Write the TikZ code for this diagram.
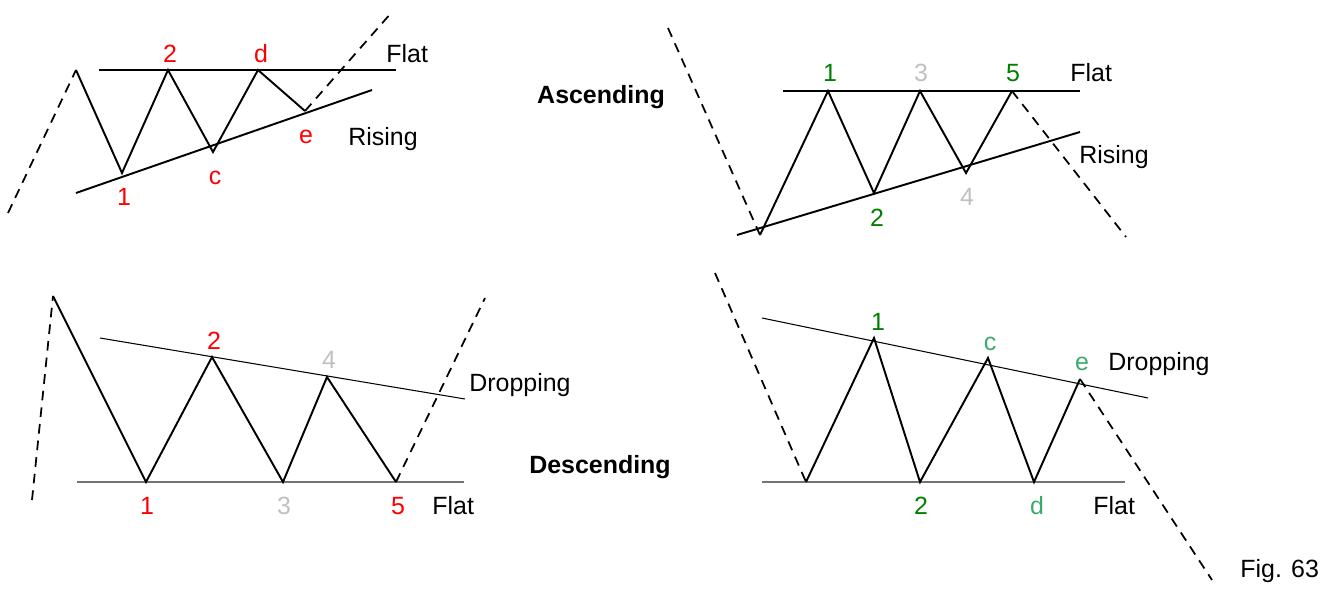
\documentclass[tikz,border=0pt]{standalone}
\usepackage{fontspec}
\setmainfont{Liberation Sans}
\definecolor{wgreen}{RGB}{0,128,0}
\definecolor{wgray}{RGB}{192,192,192}
\definecolor{wsea}{RGB}{60,170,110}
\begin{document}
\begin{tikzpicture}[x=0.02cm, y=-0.02cm, line join=miter,
		font=\fontsize{14.2}{17}\selectfont,
		wave/.style={line width=1.1pt},
		edge/.style={line width=1.1pt},
		thinedge/.style={line width=0.6pt},
		flatgray/.style={line width=1pt, draw=black!55},
		trend/.style={line width=1pt, dash pattern=on 5.5pt off 4pt},
		lbl/.style={anchor=base, inner sep=0pt},
		tag/.style={anchor=base west, inner sep=0pt}]
	\useasboundingbox (0,0) rectangle (1326,595);

	% (1) Tam giac tang, con song e
	\coordinate (a0) at (8,213);
	\coordinate (a1) at (76,70);
	\coordinate (a2) at (122,173);
	\coordinate (a3) at (168,70);
	\coordinate (a4) at (213,152);
	\coordinate (a5) at (258,70);
	\coordinate (a6) at (305,111);
	\coordinate (a7) at (392,12);
	\coordinate (aflat0) at (99,70);
	\coordinate (aflat1) at (396,70);
	\coordinate (arise0) at (76,193);
	\coordinate (arise1) at (372,90);
	\draw[edge] (aflat0) -- (aflat1);
	\draw[edge] (arise0) -- (arise1);
	\draw[trend] (a0) -- (a1);
	\draw[wave] (a1) -- (a2) -- (a3) -- (a4) -- (a5) -- (a6);
	\draw[trend] (a6) -- (a7);
	\node[lbl, text=red] (aone) at (124,205) {1};
	\node[lbl, text=red] (atwo) at (170,62) {2};
	\node[lbl, text=red] (ac) at (215,184) {c};
	\node[lbl, text=red] (ad) at (261,62) {d};
	\node[lbl, text=red] (ae) at (306,143) {e};
	\node[tag] (aflat) at (386,62) {Flat};
	\node[tag] (arise) at (348,145) {Rising};

	% (2) Tam giac tang, con song 5
	\coordinate (b0) at (668,28);
	\coordinate (b1) at (760,235);
	\coordinate (b2) at (828,91);
	\coordinate (b3) at (874,193);
	\coordinate (b4) at (920,91);
	\coordinate (b5) at (966,173);
	\coordinate (b6) at (1012,91);
	\coordinate (b7) at (1126,237);
	\coordinate (bflat0) at (783,91);
	\coordinate (bflat1) at (1080,91);
	\coordinate (brise0) at (737,235);
	\coordinate (brise1) at (1080,132);
	\draw[edge] (bflat0) -- (bflat1);
	\draw[edge] (brise0) -- (brise1);
	\draw[trend] (b0) -- (b1);
	\draw[wave] (b1) -- (b2) -- (b3) -- (b4) -- (b5) -- (b6);
	\draw[trend] (b6) -- (b7);
	\node[lbl, text=wgreen] (bone) at (830,81) {1};
	\node[lbl, text=wgray] (bthree) at (921,81) {3};
	\node[lbl, text=wgreen] (bfive) at (1013,81) {5};
	\node[lbl, text=wgreen] (btwo) at (877,226) {2};
	\node[lbl, text=wgray] (bfour) at (967,205) {4};
	\node[tag] (bflat) at (1070,81) {Flat};
	\node[tag] (brise) at (1079,163) {Rising};
	\node[lbl, font=\fontsize{14.2}{17}\selectfont\bfseries] (asc) at (601,103) {Ascending};

	% (3) Tam giac giam, con song 5
	\coordinate (c0) at (32,500);
	\coordinate (c1) at (53,296);
	\coordinate (c2) at (146,482);
	\coordinate (c3) at (212,357);
	\coordinate (c4) at (283,482);
	\coordinate (c5) at (327,377);
	\coordinate (c6) at (396,482);
	\coordinate (c7) at (485,298);
	\coordinate (cflat0) at (77,482);
	\coordinate (cflat1) at (464,482);
	\coordinate (cdrop0) at (100,338);
	\coordinate (cdrop1) at (465,399);
	\draw[flatgray] (cflat0) -- (cflat1);
	\draw[thinedge] (cdrop0) -- (cdrop1);
	\draw[trend] (c0) -- (c1);
	\draw[wave] (c1) -- (c2) -- (c3) -- (c4) -- (c5) -- (c6);
	\draw[trend] (c6) -- (c7);
	\node[lbl, text=red] (ctwo) at (214,349) {2};
	\node[lbl, text=wgray] (cfour) at (329,368) {4};
	\node[lbl, text=red] (cone) at (147,514) {1};
	\node[lbl, text=wgray] (cthree) at (284,514) {3};
	\node[lbl, text=red] (cfive) at (398,514) {5};
	\node[tag] (cflat) at (432,514) {Flat};
	\node[tag] (cdrop) at (469,391) {Dropping};
	\node[lbl, font=\fontsize{14.2}{17}\selectfont\bfseries] (desc) at (600,473) {Descending};

	% (4) Tam giac giam, con song e
	\coordinate (d0) at (715,273);
	\coordinate (d1) at (806,482);
	\coordinate (d2) at (874,338);
	\coordinate (d3) at (920,482);
	\coordinate (d4) at (988,358);
	\coordinate (d5) at (1034,482);
	\coordinate (d6) at (1080,379);
	\coordinate (d7) at (1212,580);
	\coordinate (dflat0) at (762,482);
	\coordinate (dflat1) at (1125,482);
	\coordinate (ddrop0) at (762,318);
	\coordinate (ddrop1) at (1148,398);
	\draw[flatgray] (dflat0) -- (dflat1);
	\draw[thinedge] (ddrop0) -- (ddrop1);
	\draw[trend] (d0) -- (d1);
	\draw[wave] (d1) -- (d2) -- (d3) -- (d4) -- (d5) -- (d6);
	\draw[trend] (d6) -- (d7);
	\node[lbl, text=wgreen] (done) at (878,330) {1};
	\node[lbl, text=wsea] (dc) at (990,350) {c};
	\node[lbl, text=wsea] (de) at (1082,370) {e};
	\node[lbl, text=wgreen] (dtwo) at (921,514) {2};
	\node[lbl, text=wsea] (dd) at (1037,514) {d};
	\node[tag] (dflat) at (1093,514) {Flat};
	\node[tag] (ddrop) at (1108,370) {Dropping};

	\node[tag] (fig) at (1240,577) {Fig. 63};
\end{tikzpicture}
\end{document}
